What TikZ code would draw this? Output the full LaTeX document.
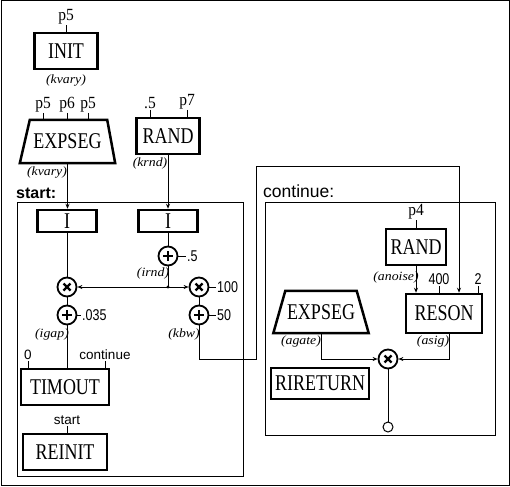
\documentclass[tikz,border=0pt]{standalone}
\usepackage{fontspec}
\setmainfont{Liberation Serif}
\setsansfont{Liberation Sans}
\usetikzlibrary{arrows.meta,calc}
\newcommand\boxtxt[1]{\scalebox{1}[1.25]{\fontsize{18}{18}\selectfont #1}}
\newcommand\pserif[1]{\scalebox{1}[1.1]{\fontsize{15.5}{15.5}\selectfont #1}}
\newcommand\nsans[1]{\scalebox{1}[1.25]{\sffamily\fontsize{12.5}{12.5}\selectfont #1}}
\newcommand\lsans[1]{{\sffamily\fontsize{13.5}{13.5}\selectfont #1}}
\newcommand\itl[1]{\scalebox{1.15}[1.05]{\fontsize{12}{12}\selectfont\itshape #1}}
\begin{document}
\begin{tikzpicture}[x=1pt,y=-1pt,
  box/.style={draw, line width=2.5pt, rectangle, inner sep=0pt},
  frame/.style={draw, line width=1pt},
  wire/.style={line width=1pt},
  arr/.style={wire, -{Stealth[length=5pt,width=4pt]}},
  opc/.style={circle, draw, line width=1.8pt, minimum size=19, inner sep=0pt},
  plusop/.style={opc, path picture={
     \draw[line width=2.2pt] ([xshift=-5pt]path picture bounding box.center) -- ([xshift=5pt]path picture bounding box.center);
     \draw[line width=2.2pt] ([yshift=-5pt]path picture bounding box.center) -- ([yshift=5pt]path picture bounding box.center);}},
  timesop/.style={opc, path picture={
     \draw[line width=2.2pt] ([shift={(-3.5pt,-3.5pt)}]path picture bounding box.center) -- ([shift={(3.5pt,3.5pt)}]path picture bounding box.center);
     \draw[line width=2.2pt] ([shift={(-3.5pt,3.5pt)}]path picture bounding box.center) -- ([shift={(3.5pt,-3.5pt)}]path picture bounding box.center);}},
  lbl/.style={inner sep=1pt},
  trap/.style={line width=2.5pt, line join=miter}
]
\useasboundingbox (0,0) rectangle (510,486);
\draw[frame] (1,1) rectangle (509,485);

% ---------- top left ----------
\node[box, minimum width=63, minimum height=36] (init) at (66,51) {\boxtxt{INIT}};
\node[lbl, anchor=south] (lp5) at (66,25) {\pserif{p5}};
\draw[wire] (init.north) -- (lp5.south);
\node[lbl] (kv1) at (66,80) {\itl{(kvary)}};

\node[minimum width=95, minimum height=43, inner sep=0pt] (exp1) at (67.5,141.5) {\boxtxt{EXPSEG}};
\draw[trap] (exp1.south west) -- ($(exp1.north west)+(10,0)$) -- ($(exp1.north east)+(-8,0)$) -- (exp1.south east) -- cycle;
\node[lbl, anchor=south] (e1a) at (43,113) {\pserif{p5}};
\node[lbl, anchor=south] (e1b) at (67,113) {\pserif{p6}};
\node[lbl, anchor=south] (e1c) at (88,113) {\pserif{p5}};
\foreach \n in {e1a,e1b,e1c} {\draw[wire] (\n.south) -- (\n.south |- exp1.north);}
\node[lbl] (kv2) at (47,172) {\itl{(kvary)}};

\node[box, minimum width=63, minimum height=36] (rand1) at (168,136) {\boxtxt{RAND}};
\node[lbl, anchor=south] (r1a) at (150,110) {\pserif{.5}};
\node[lbl, anchor=south] (r1b) at (187,110) {\pserif{p7}};
\foreach \n in {r1a,r1b} {\draw[wire] (\n.south) -- (\n.south |- rand1.north);}
\node[lbl] (krnd) at (150,163) {\itl{(krnd)}};

% ---------- start section ----------
\node[anchor=base west, inner sep=0pt] (startlbl) at (16,198) {\sffamily\bfseries\fontsize{16}{16}\selectfont start:};
\node[frame, minimum width=226, minimum height=274, anchor=north west, inner sep=0pt] (startfr) at (17,202) {};

\node[box, minimum width=59, minimum height=22] (i1) at (67,221) {\boxtxt{I}};
\node[box, minimum width=59, minimum height=22] (i2) at (168,221) {\boxtxt{I}};
\draw[arr] (exp1.south) -- (exp1.south |- i1.north);
\draw[arr] (rand1.south) -- (i2.north);

\node[plusop] (plus1) at (168,256) {};
\node[timesop] (times1) at (67,287) {};
\node[timesop] (times2) at (199,287) {};
\node[plusop] (plus2) at (67,315) {};
\node[plusop] (plus3) at (199,315) {};
\coordinate (jn) at (168,287);

\draw[wire] (i2.south) -- (plus1.north);
\draw[wire] (plus1.south) -- (jn);
\fill (jn) circle (1.6);
\draw[arr] (jn) -- (times1.east);
\draw[arr] (jn) -- (times2.west);
\draw[wire] (i1.south) -- (times1.north);
\draw[wire] (times1.south) -- (plus2.north);
\draw[wire] (times2.south) -- (plus3.north);

\node[lbl, anchor=west] (c5) at (186,256) {\nsans{.5}};
\draw[wire] (plus1.east) -- (c5.west);
\node[lbl, anchor=west] (c100) at (216,287) {\nsans{100}};
\draw[wire] (times2.east) -- (c100.west);
\node[lbl, anchor=west] (c035) at (81,315) {\nsans{.035}};
\draw[wire] (plus2.east) -- (c035.west);
\node[lbl, anchor=west] (c50) at (216,315) {\nsans{50}};
\draw[wire] (plus3.east) -- (c50.west);

\node[lbl] (irnd) at (153,273) {\itl{(irnd)}};
\node[lbl] (igap) at (52,334) {\itl{(igap)}};
\node[lbl] (kbw) at (184,334) {\itl{(kbw)}};

\node[box, minimum width=88, minimum height=36] (timout) at (65,387) {\boxtxt{TIMOUT}};
\draw[wire] (plus2.south) -- (plus2.south |- timout.north);
\node[lbl, anchor=south] (t0) at (28,361) {\lsans{0}};
\node[lbl, anchor=south] (tc) at (105,361) {\lsans{continue}};
\foreach \n in {t0,tc} {\draw[wire] (\n.south) -- (\n.south |- timout.north);}

\node[box, minimum width=84, minimum height=36] (reinit) at (65,452) {\boxtxt{REINIT}};
\node[lbl, anchor=south] (rs) at (67,426) {\lsans{start}};
\draw[wire] (rs.south) -- (rs.south |- reinit.north);

% ---------- continue section ----------
\node[anchor=base west, inner sep=0pt] (contlbl) at (263,197) {\sffamily\fontsize{17.5}{17.5}\selectfont continue:};
\node[frame, minimum width=230, minimum height=233, anchor=north west, inner sep=0pt] (contfr) at (265,202) {};

\node[box, minimum width=60, minimum height=36] (rand2) at (416,247) {\boxtxt{RAND}};
\node[lbl, anchor=south] (p4) at (416,220) {\pserif{p4}};
\draw[wire] (p4.south) -- (rand2.north);
\node[lbl] (anoise) at (396,277) {\itl{(anoise)}};

\node[box, minimum width=76, minimum height=39] (reson) at (444,313.5) {\boxtxt{RESON}};
\draw[arr] (rand2.south) -- (rand2.south |- reson.north);
\node[lbl, anchor=south] (l400) at (439,286) {\nsans{400}};
\node[lbl, anchor=south] (l2) at (478,286) {\nsans{2}};
\foreach \n in {l400,l2} {\draw[wire] (\n.south) -- (\n.south |- reson.north);}

\coordinate (kb1) at (199,359);
\coordinate (kb2) at (256,359);
\coordinate (kb3) at (256,167);
\coordinate (kb4) at (459,167);
\draw[arr] (plus3.south) -- (kb1) -- (kb2) -- (kb3) -- (kb4) -- (kb4 |- reson.north);

\node[minimum width=95, minimum height=42, inner sep=0pt] (exp2) at (321,312) {\boxtxt{EXPSEG}};
\draw[trap] (exp2.south west) -- ($(exp2.north west)+(12,0)$) -- ($(exp2.north east)+(-12,0)$) -- (exp2.south east) -- cycle;
\node[lbl] (agate) at (301,341) {\itl{(agate)}};
\node[lbl] (asig) at (433,341) {\itl{(asig)}};

\node[timesop] (times3) at (388,359) {};
\draw[arr] (exp2.south) |- (times3.west);
\draw[arr] ([xshift=5pt]reson.south) |- (times3.east);
\node[circle, draw, line width=1pt, minimum size=10, inner sep=0pt] (outc) at (388,427) {};
\draw[wire] (times3.south) -- (outc.north);

\node[box, minimum width=98, minimum height=31] (rireturn) at (320,383.5) {\boxtxt{RIRETURN}};
\end{tikzpicture}
\end{document}
